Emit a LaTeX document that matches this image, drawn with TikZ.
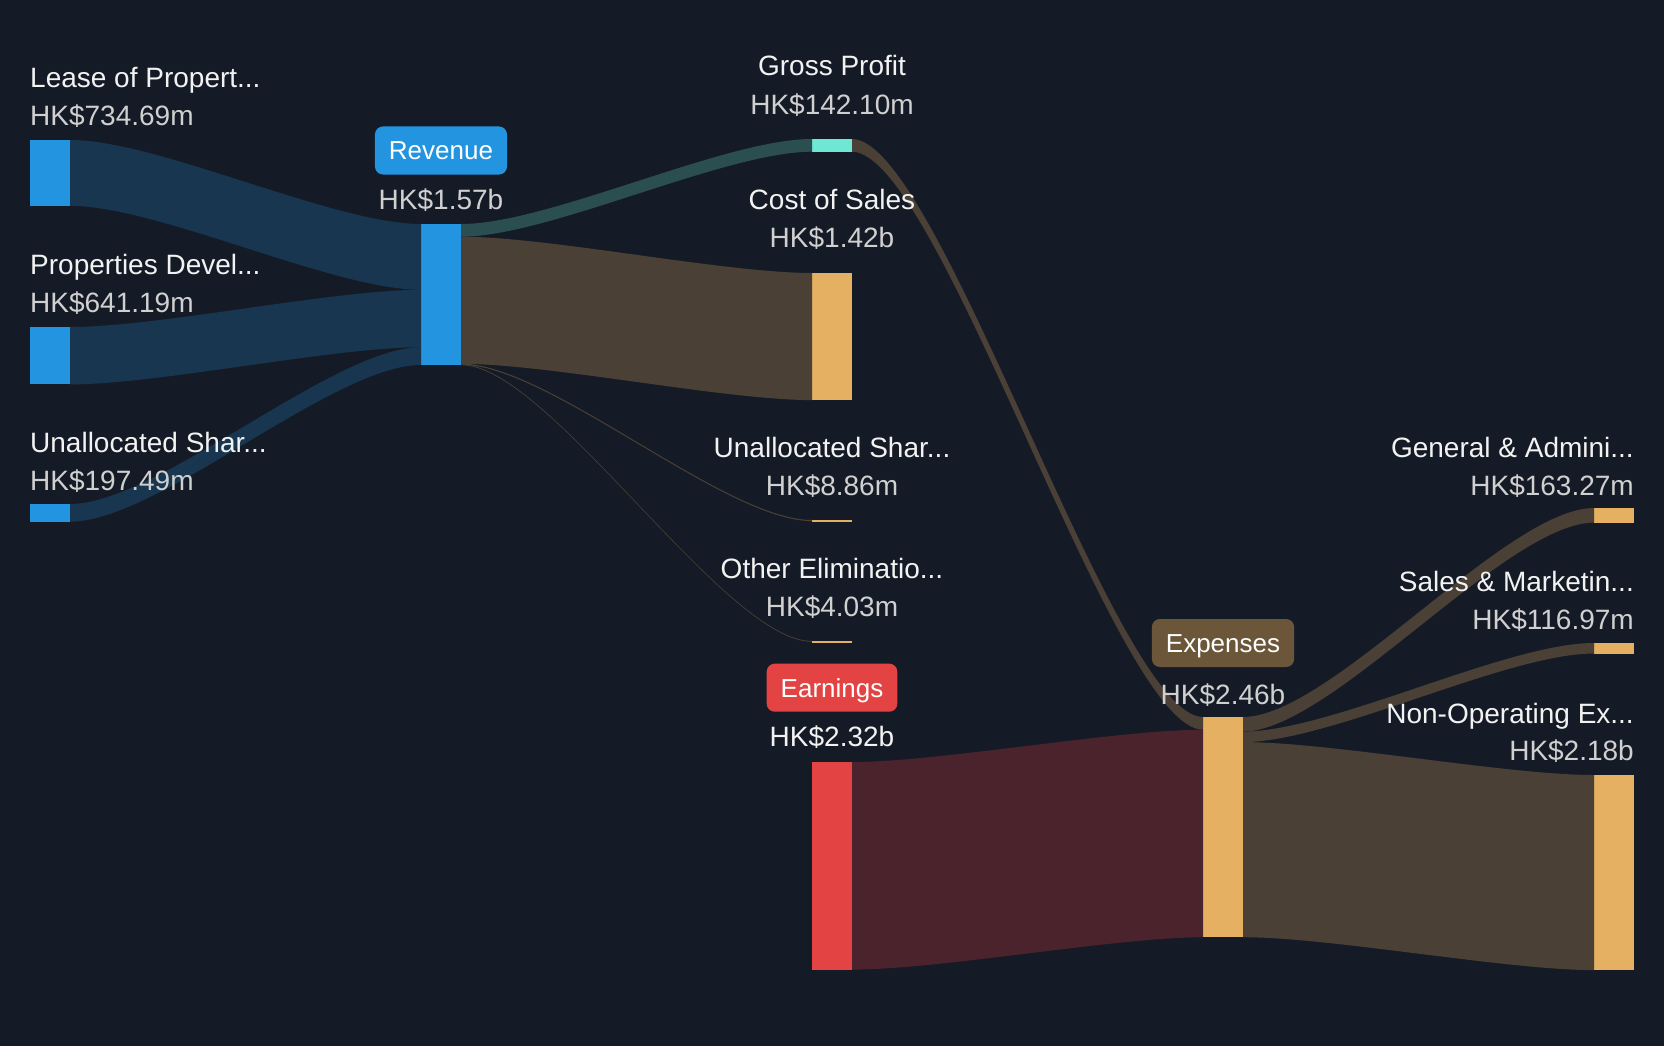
\documentclass[tikz,border=0pt]{standalone}
\usepackage{fontspec}
\setmainfont{Liberation Sans}
\usetikzlibrary{calc}

\definecolor{bgdark}{HTML}{151B26}
\definecolor{revblue}{HTML}{2394DF}
\definecolor{flowblue}{HTML}{183650}
\definecolor{gpteal}{HTML}{6EE7D4}
\definecolor{flowteal}{HTML}{2B4F50}
\definecolor{costorange}{HTML}{E5B062}
\definecolor{flowbrown}{HTML}{4A4035}
\definecolor{earnred}{HTML}{E44343}
\definecolor{flowred}{HTML}{4A232C}
\definecolor{expbrown}{HTML}{6B5639}
\definecolor{titlewhite}{HTML}{F2F2F2}
\definecolor{valgray}{HTML}{D0D0D0}

\tikzset{
  sbar/.style={rectangle, inner sep=0pt, outer sep=0pt, minimum width=40pt, anchor=north west},
  lbltitle/.style={text=titlewhite, font=\fontsize{28}{34}\selectfont, inner sep=0pt},
  lblvalue/.style={text=valgray, font=\fontsize{28}{34}\selectfont, inner sep=0pt},
  labelbox/.style={rounded corners=8pt, text=white, font=\fontsize{26}{30}\selectfont,
    inner xsep=14pt, inner ysep=0pt, text height=18.6pt, text depth=0pt, minimum height=48pt}
}

\newcommand{\flowband}[6]{%
  \fill[#1] let \p1=($(#2.north east)+(0,#3)$), \p2=($(#4.north west)+(0,#5)$),
    \p3=($(\p1)+(0,#6)$), \p4=($(\p2)+(0,#6)$),
    \n1={\x1+0.25*(\x2-\x1)}, \n2={\x2-0.25*(\x2-\x1)} in
    (\p1) .. controls (\n1,\y1) and (\n2,\y2) .. (\p2) -- (\p4)
    .. controls (\n2,\y4) and (\n1,\y3) .. (\p3) -- cycle;}

\begin{document}
\begin{tikzpicture}[x=1pt,y=-1pt]
\fill[bgdark] (0,0) rectangle (1664,1046);

\node[sbar, fill=revblue, minimum height=65.8pt] (lease) at (30,140) {};
\node[sbar, fill=revblue, minimum height=57.4pt] (prop) at (30,327) {};
\node[sbar, fill=revblue, minimum height=17.7pt] (unallocL) at (30,504) {};
\node[sbar, fill=revblue, minimum height=141pt] (rev) at (421,224) {};
\node[sbar, fill=gpteal, minimum height=12.7pt] (gp) at (812,139) {};
\node[sbar, fill=costorange, minimum height=127.1pt] (cos) at (812,273) {};
\node[sbar, fill=costorange, minimum height=2pt] (unallocR) at (812,520) {};
\node[sbar, fill=costorange, minimum height=2pt] (elim) at (812,641) {};
\node[sbar, fill=earnred, minimum height=207.6pt] (earn) at (812,762) {};
\node[sbar, fill=costorange, minimum height=220.3pt] (exps) at (1203,717) {};
\node[sbar, fill=costorange, minimum height=14.6pt] (gna) at (1594,508) {};
\node[sbar, fill=costorange, minimum height=10.5pt] (snm) at (1594,643) {};
\node[sbar, fill=costorange, minimum height=195.1pt] (nonop) at (1594,775) {};

\flowband{flowblue}{lease}{0}{rev}{0}{65.8}
\flowband{flowblue}{prop}{0}{rev}{65.8}{57.4}
\flowband{flowblue}{unallocL}{0}{rev}{123.2}{17.7}
\flowband{flowteal}{rev}{0}{gp}{0}{12.7}
\flowband{flowbrown}{rev}{12.7}{cos}{0}{127.1}
\flowband{flowbrown}{rev}{139.6}{unallocR}{0}{1.1}
\flowband{flowbrown}{rev}{140.3}{elim}{0}{0.8}
\flowband{flowbrown}{gp}{0}{exps}{0}{12.7}
\flowband{flowred}{earn}{0}{exps}{12.7}{207.6}
\flowband{flowbrown}{exps}{0}{gna}{0}{14.6}
\flowband{flowbrown}{exps}{14.6}{snm}{0}{10.5}
\flowband{flowbrown}{exps}{25.1}{nonop}{0}{195.1}

\node[lbltitle, anchor=base west] (leaseT) at (30,88) {Lease of Propert...};
\node[lblvalue, anchor=base west] (leaseV) at (30,126) {HK\$734.69m};
\node[lbltitle, anchor=base west] (propT) at (30,274) {Properties Devel...};
\node[lblvalue, anchor=base west] (propV) at (30,312) {HK\$641.19m};
\node[lbltitle, anchor=base west] (unallocLT) at (30,452) {Unallocated Shar...};
\node[lblvalue, anchor=base west] (unallocLV) at (30,490) {HK\$197.49m};

\node[labelbox, fill=revblue] (revT) at (441,150.5) {Revenue};
\node[lblvalue, anchor=base] (revV) at (441,209.5) {HK\$1.57b};

\node[lbltitle, anchor=base] (gpT) at (832,76) {Gross Profit};
\node[lblvalue, anchor=base] (gpV) at (832,114) {HK\$142.10m};
\node[lbltitle, anchor=base] (cosT) at (832,209.5) {Cost of Sales};
\node[lblvalue, anchor=base] (cosV) at (832,247.5) {HK\$1.42b};
\node[lbltitle, anchor=base] (unallocRT) at (832,457) {Unallocated Shar...};
\node[lblvalue, anchor=base] (unallocRV) at (832,495) {HK\$8.86m};
\node[lbltitle, anchor=base] (elimT) at (832,578) {Other Eliminatio...};
\node[lblvalue, anchor=base] (elimV) at (832,616) {HK\$4.03m};
\node[labelbox, fill=earnred] (earnT) at (832,687.7) {Earnings};
\node[lblvalue, anchor=base, text=titlewhite] (earnV) at (832,746.5) {HK\$2.32b};

\node[labelbox, fill=expbrown] (expsT) at (1223,643) {Expenses};
\node[lblvalue, anchor=base] (expsV) at (1223,704) {HK\$2.46b};

\node[lbltitle, anchor=base east] (gnaT) at (1634,457) {General \& Admini...};
\node[lblvalue, anchor=base east] (gnaV) at (1634,495) {HK\$163.27m};
\node[lbltitle, anchor=base east] (snmT) at (1634,591.5) {Sales \& Marketin...};
\node[lblvalue, anchor=base east] (snmV) at (1634,629.7) {HK\$116.97m};
\node[lbltitle, anchor=base east] (nonopT) at (1634,723) {Non-Operating Ex...};
\node[lblvalue, anchor=base east] (nonopV) at (1634,760) {HK\$2.18b};

\end{tikzpicture}
\end{document}
